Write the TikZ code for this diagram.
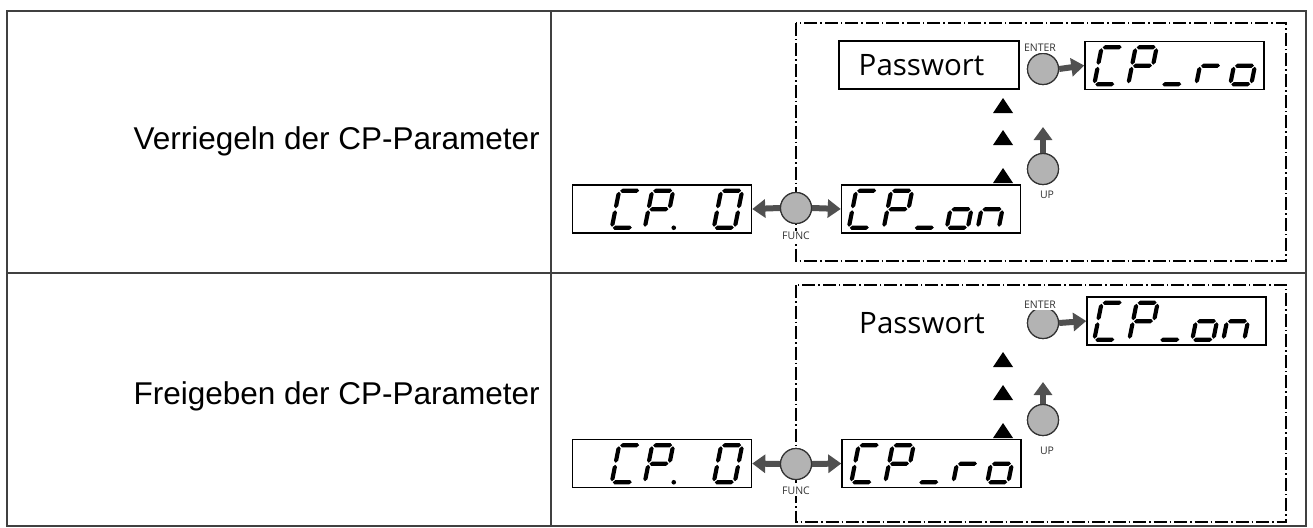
\documentclass[tikz,border=0pt]{standalone}
\usepackage{fontspec}
\setmainfont{Liberation Sans}
\newfontfamily\keyfont{Open Sans}
\usetikzlibrary{arrows.meta}
\definecolor{framegray}{HTML}{404040}
\definecolor{btngray}{HTML}{B3B3B3}
\definecolor{arrgray}{HTML}{505050}

% slant of the LCD characters and half thickness of a bar
\def\slnt{0.2}
\def\segt{2.1}
% one seven-segment bar, horizontal (x1,x2,y) or vertical (x,y1,y2), slanted
\newcommand\hseg[3]{\fill
  ({#1+1+\slnt*(#3)},{-(#3)}) --
  ({#1+1+\segt+\slnt*(#3+\segt)},{-(#3+\segt)}) --
  ({#2-1-\segt+\slnt*(#3+\segt)},{-(#3+\segt)}) --
  ({#2-1+\slnt*(#3)},{-(#3)}) --
  ({#2-1-\segt+\slnt*(#3-\segt)},{-(#3-\segt)}) --
  ({#1+1+\segt+\slnt*(#3-\segt)},{-(#3-\segt)}) -- cycle;}
\newcommand\vseg[3]{\fill
  ({#1+\slnt*(#2+1)},{-(#2+1)}) --
  ({#1+\segt+\slnt*(#2+1+\segt)},{-(#2+1+\segt)}) --
  ({#1+\segt+\slnt*(#3-1-\segt)},{-(#3-1-\segt)}) --
  ({#1+\slnt*(#3-1)},{-(#3-1)}) --
  ({#1-\segt+\slnt*(#3-1-\segt)},{-(#3-1-\segt)}) --
  ({#1-\segt+\slnt*(#2+1+\segt)},{-(#2+1+\segt)}) -- cycle;}
\newcommand\sga{\hseg{0}{21}{37}}
\newcommand\sgb{\vseg{21}{18.5}{37}}
\newcommand\sgc{\vseg{21}{0}{18.5}}
\newcommand\sgd{\hseg{0}{21}{0}}
\newcommand\sge{\vseg{0}{0}{18.5}}
\newcommand\sgf{\vseg{0}{18.5}{37}}
\newcommand\sgg{\hseg{0}{21}{18.5}}
% seven-segment character: x offset, y offset, list of lit segments
\newcommand\segchar[3]{\begin{scope}[shift={(#1,#2)}]
  \foreach \s in {#3}{\csname sg\s\endcsname}\end{scope}}
% LCD window: name, centre, characters drawn from its lower left corner
\newcommand\lcd[4]{\node[lcd] (#1) at (#2,#3) {};
  \begin{scope}[shift={(#1.south west)}]#4\end{scope}}

\tikzset{
  lcd/.style={draw=black, line width=1.5pt, minimum width=179pt, minimum height=48pt, inner sep=0pt},
  pwbox/.style={draw=black, line width=1.5pt, minimum width=180pt, minimum height=48pt, inner sep=0pt},
  pwtext/.style={font=\keyfont\fontsize{29.5}{34}\selectfont, inner sep=0pt},
  rowlabel/.style={font=\fontsize{31.5}{37}\selectfont, anchor=east, inner sep=0pt},
  keybtn/.style={circle, draw=black!80, line width=1.2pt, fill=btngray, minimum size=31pt, inner sep=0pt},
  keylabel/.style={font=\keyfont\fontsize{10.5}{12}\selectfont, text=black!80, inner sep=1pt, fill=white},
  garrow/.style={draw=arrgray, line width=6pt, -{Triangle[length=13pt,width=18pt]}},
  zone/.style={line width=1.5pt, dash pattern=on 13pt off 3pt on 1.5pt off 3pt},
  frameline/.style={draw=framegray, line width=2pt}
}

\begin{document}
\begin{tikzpicture}[x=1pt,y=-1pt]
\useasboundingbox (0,0) rectangle (1313,527);

% table
\draw[frameline] (7,11) rectangle (1306,526);
\draw[frameline] (551,11) -- (551,526);
\draw[frameline] (7,273) -- (1306,273);

\node[rowlabel] (lab1) at (540,141) {Verriegeln der CP-Parameter};
\node[rowlabel] (lab2) at (540,396) {Freigeben der CP-Parameter};

% ---------------- locking ----------------
\draw[zone] (796,23) rectangle (1286,261);

\lcd{cpzeroA}{662}{209}{%
  \segchar{40}{-6}{a,d,e,f}\segchar{73}{-6}{a,b,e,f,g}
  \fill (102,-6) circle (2.3);
  \segchar{142}{-6}{a,b,c,d,e,f}}
\lcd{cponA}{931}{209}{%
  \segchar{8}{-6}{a,d,e,f}\segchar{43}{-6}{a,b,e,f,g}\segchar{73}{-6}{d}
  \segchar{106}{-6}{c,d,e,g}\segchar{137}{-6}{c,e,g}}
\lcd{cproA}{1174.5}{65.5}{%
  \segchar{10}{-6}{a,d,e,f}\segchar{44}{-6}{a,b,e,f,g}\segchar{77}{-6}{d}
  \segchar{112}{-6}{e,g}\segchar{146}{-6}{c,d,e,g}}

\node[pwbox] (pwA) at (929,65) {};
\node[pwtext] (pwtA) at (921.5,65) {Passwort};

\fill (1003,98) -- (1013,113) -- (993,113) -- cycle;
\fill (1003,130) -- (1013,145) -- (993,145) -- cycle;
\fill (1003,168) -- (1013,183) -- (993,183) -- cycle;

\coordinate (upendA) at (1043,127);
\node[keybtn] (funcA) at (796,208) {};
\node[keybtn] (enterA) at (1043,69) {};
\node[keybtn] (upA) at (1043,169) {};
\draw[garrow] (funcA.west) -- (cpzeroA.east);
\draw[garrow] (funcA.east) -- (cponA.west);
\draw[garrow] (enterA.east) -- (cproA.west);
\draw[garrow] (upA.north) -- (upendA);
\node[keybtn] at (funcA) {};
\node[keybtn] at (enterA) {};
\node[keybtn] at (upA) {};
\node[keylabel] (funclA) at (796,236) {FUNC};
\node[keylabel] (enterlA) at (1040,48) {ENTER};
\node[keylabel] (uplA) at (1047,195) {UP};

% ---------------- unlocking ----------------
\draw[zone] (796,285) rectangle (1286,522);

\lcd{cpzeroB}{662}{463.5}{%
  \segchar{40}{-6}{a,d,e,f}\segchar{73}{-6}{a,b,e,f,g}
  \fill (102,-6) circle (2.3);
  \segchar{142}{-6}{a,b,c,d,e,f}}
\lcd{cproB}{931.5}{463.5}{%
  \segchar{10}{-6}{a,d,e,f}\segchar{44}{-6}{a,b,e,f,g}\segchar{77}{-6}{d}
  \segchar{112}{-6}{e,g}\segchar{146}{-6}{c,d,e,g}}
\lcd{cponB}{1176.5}{321}{%
  \segchar{8}{-6}{a,d,e,f}\segchar{43}{-6}{a,b,e,f,g}\segchar{73}{-6}{d}
  \segchar{106}{-6}{c,d,e,g}\segchar{137}{-6}{c,e,g}}

\node[pwtext] (pwtB) at (922,323) {Passwort};

\fill (1003,352) -- (1013,367) -- (993,367) -- cycle;
\fill (1003,385) -- (1013,400) -- (993,400) -- cycle;
\fill (1003,423) -- (1013,438) -- (993,438) -- cycle;

\coordinate (upendB) at (1043,382);
\node[keybtn] (funcB) at (796,464) {};
\node[keybtn] (enterB) at (1043,323) {};
\node[keybtn] (upB) at (1043,420) {};
\draw[garrow] (funcB.west) -- (cpzeroB.east);
\draw[garrow] (funcB.east) -- (cproB.west);
\draw[garrow] (enterB.east) -- (cponB.west);
\draw[garrow] (upB.north) -- (upendB);
\node[keybtn] at (funcB) {};
\node[keybtn] at (enterB) {};
\node[keybtn] at (upB) {};
\node[keylabel] (funclB) at (796,491) {FUNC};
\node[keylabel] (enterlB) at (1040,305) {ENTER};
\node[keylabel] (uplB) at (1047,451) {UP};
\end{tikzpicture}
\end{document}
